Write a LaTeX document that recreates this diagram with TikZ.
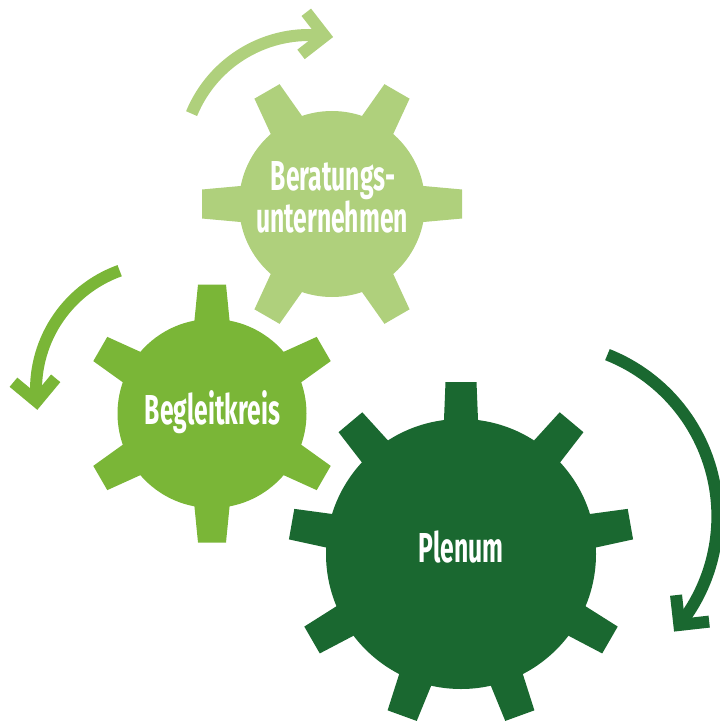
\documentclass[tikz,border=0pt]{standalone}
\usepackage{fontspec}
\newfontfamily\gf{Fira Sans}[FakeStretch=0.59]
\usetikzlibrary{calc}
\definecolor{gLight}{RGB}{175,208,124}
\definecolor{gMid}{RGB}{122,182,55}
\definecolor{gDark}{RGB}{26,104,48}
\tikzset{
  gtext/.style={text=white, font=\gf\bfseries\fontsize{42}{42}\selectfont, anchor=base, inner sep=0pt},
  turn/.style={line width=12bp, line cap=butt, line join=miter},
}
% #1 centre, #2 R, #3 outer radius, #4 half width at base, #5 half width at tip, #6 angles, #7 colour
\newcommand\gearshape[7]{%
  \fill[#7] (#1) circle[radius=#2];
  \foreach \a in {#6} {\fill[#7, shift={(#1)}, rotate=\a] (#2-8,-#4) -- (#3,-#5) -- (#3,#5) -- (#2-8,#4) -- cycle;}
}
% #1 apex, #2 forward direction, #3 colour
\newcommand\chevron[3]{%
  \draw[turn, #3] ($(#1)+(#2+135:30)$) -- (#1) -- ($(#1)+(#2-135:30)$);
}
\begin{document}
\begin{tikzpicture}[x=1bp, y=1bp]
\useasboundingbox (0,0) rectangle (720,-722);
\clip (0,0) rectangle (720,-722);

% gear centres
\coordinate (g1) at (332,-204);
\coordinate (g2) at (212,-413.5);
\coordinate (g3) at (461,-554);

\gearshape{g1}{93}{130}{18.6}{14.5}{0,60,120,180,240,300}{gLight}
\gearshape{g2}{94.5}{129}{18.2}{14}{90,150,210,270,330,30}{gMid}
\gearshape{g3}{135}{172}{17.3}{15.5}{90,130,170,210,250,290,330,10,50}{gDark}

% labels
\node[gtext] (t1a) at (333,-190.5) {Beratungs-};
\node[gtext] (t1b) at (332,-232) {unternehmen};
\node[gtext] (t2) at (212.5,-424.7) {Begleitkreis};
\node[gtext] (t3) at (461,-562) {Plenum};

% turning arrows
\coordinate (c1) at (309,-162);
\coordinate (c2) at (162.5,-389.7);
\coordinate (c3) at (543.4,-516.4);

\draw[turn, gLight] ($(c1)+(157.6:127)$) arc[start angle=157.6, end angle=82.9, radius=127];
\coordinate (p1) at ($(c1)+(82.9:127)$);
\chevron{p1}{-7.1}{gLight}

\draw[turn, gMid] ($(c2)+(109.8:126.5)$) arc[start angle=109.8, end angle=185.3, radius=126.5];
\coordinate (p2) at ($(c2)+(185.3:126.5)$);
\chevron{p2}{275.3}{gMid}

\draw[turn, gDark] ($(c3)+(68.4:174)$) arc[start angle=68.4, end angle=-38.6, radius=174];
\coordinate (p3) at ($(c3)+(-38.6:174)$);
\chevron{p3}{-128.6}{gDark}
\end{tikzpicture}
\end{document}
